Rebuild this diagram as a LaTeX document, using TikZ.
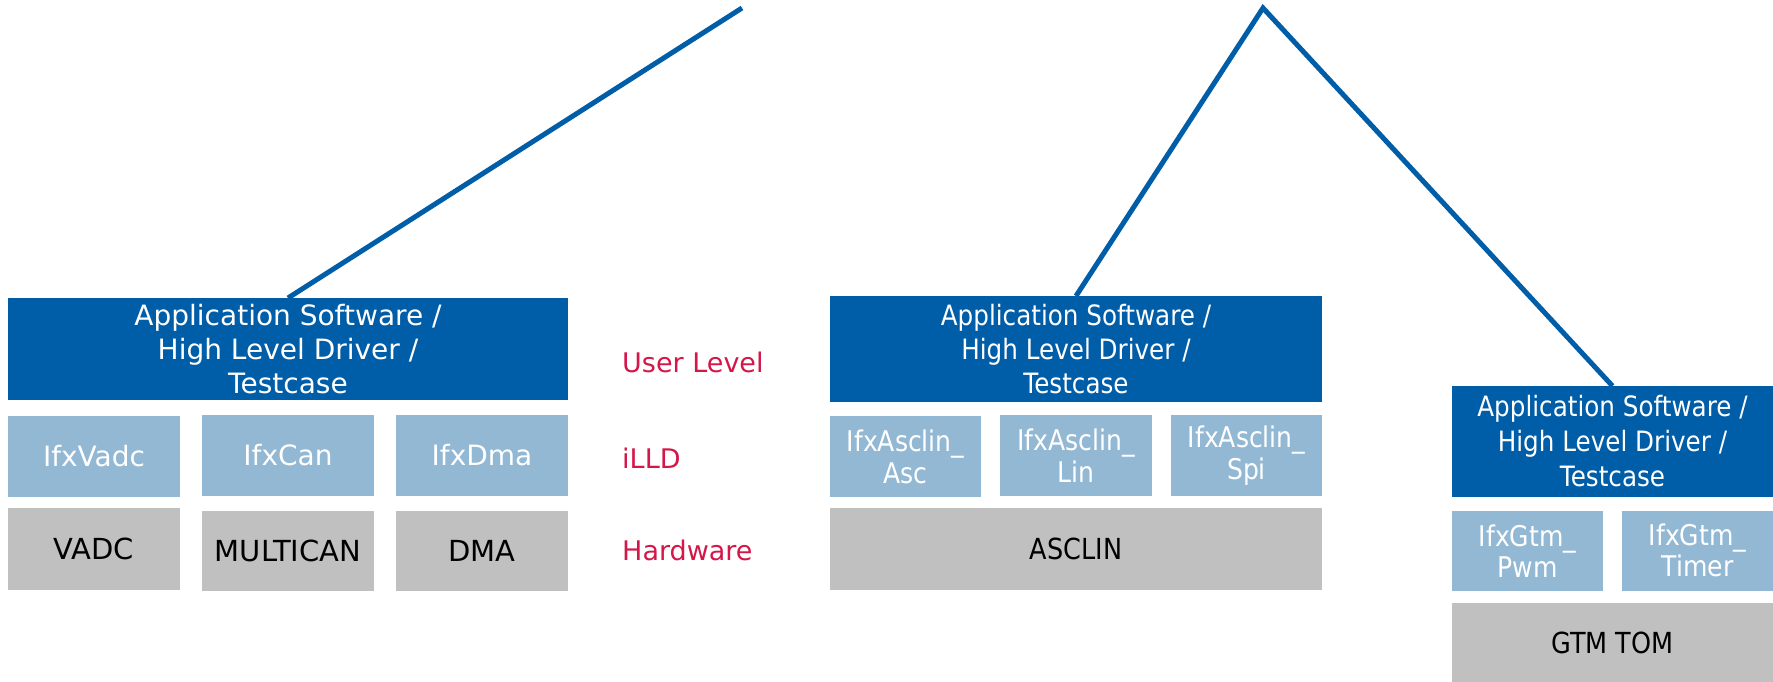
\documentclass[tikz,border=0pt]{standalone}
\usepackage{fontspec}
\setmainfont{DejaVu Sans}
\newfontfamily\condfont{DejaVu Sans}[FakeStretch=0.88]
\definecolor{ifxblue}{RGB}{0,93,168}
\definecolor{ifxlight}{RGB}{146,184,212}
\definecolor{ifxgray}{RGB}{192,192,192}
\definecolor{ifxred}{RGB}{212,22,72}
\begin{document}
\begin{tikzpicture}[x=1pt,y=-1pt,
  base/.style={inner sep=0pt, outer sep=0pt, align=center},
  appbox/.style={base, fill=ifxblue, text=white},
  illdbox/.style={base, fill=ifxlight, text=white},
  hwbox/.style={base, fill=ifxgray, text=black},
  lefttext/.style={font=\fontsize{28}{34}\selectfont},
  lefthw/.style={font=\fontsize{29}{34}\selectfont},
  condtext/.style={font=\condfont\fontsize{28}{34}\selectfont},
  condhw/.style={font=\condfont\fontsize{29}{34}\selectfont},
  condtwo/.style={font=\condfont\fontsize{28.5}{32}\selectfont},
  layerlabel/.style={anchor=base west, inner sep=0pt, text=ifxred, font=\fontsize{27}{32}\selectfont},
  link/.style={draw=ifxblue, line width=5pt, line join=miter}
]
\useasboundingbox (0,0) rectangle (1773,682);

% ---------- left group ----------
\node[appbox, lefttext, minimum width=560pt, minimum height=102pt] (appL) at (288,349)
  {Application Software /\\High Level Driver /\\Testcase};
\node[illdbox, lefttext, minimum width=172pt, minimum height=81pt] (vadcI) at (94,456.5) {IfxVadc};
\node[illdbox, lefttext, minimum width=172pt, minimum height=81pt] (canI) at (288,455.5) {IfxCan};
\node[illdbox, lefttext, minimum width=172pt, minimum height=81pt] (dmaI) at (482,455.5) {IfxDma};
\node[hwbox, lefthw, minimum width=172pt, minimum height=82pt] (vadc) at (94,549) {VADC};
\node[hwbox, lefthw, minimum width=172pt, minimum height=80pt] (multican) at (288,551) {MULTICAN};
\node[hwbox, lefthw, minimum width=172pt, minimum height=80pt] (dma) at (482,551) {DMA};

\node[layerlabel] (lblUser) at (622,372) {User Level};
\node[layerlabel] (lblIlld) at (622,468) {iLLD};
\node[layerlabel] (lblHw) at (622,560) {Hardware};

% ---------- middle group ----------
\node[appbox, condtext, minimum width=492pt, minimum height=106pt] (appM) at (1076,349)
  {Application Software /\\High Level Driver /\\Testcase};
\node[illdbox, condtwo, minimum width=151pt, minimum height=81pt] (ascI) at (905.5,456.5) {IfxAsclin\_\\Asc};
\node[illdbox, condtwo, minimum width=152pt, minimum height=81pt] (linI) at (1076,455.5) {IfxAsclin\_\\Lin};
\node[illdbox, condtwo, minimum width=151pt, minimum height=81pt] (spiI) at (1246.5,455.5) {IfxAsclin\_\\Spi};
\node[hwbox, condhw, minimum width=492pt, minimum height=82pt] (asclin) at (1076,549) {ASCLIN};

% ---------- right group ----------
\node[appbox, font=\condfont\fontsize{28}{35}\selectfont, minimum width=321pt, minimum height=111pt] (appR) at (1612.5,441.5)
  {Application Software /\\High Level Driver /\\Testcase};
\node[illdbox, font=\condfont\fontsize{28.5}{31}\selectfont, minimum width=151pt, minimum height=80pt] (pwmI) at (1527.5,551) {IfxGtm\_\\Pwm};
\node[illdbox, font=\condfont\fontsize{28.5}{31}\selectfont, minimum width=151pt, minimum height=80pt] (timerI) at (1697.5,550.5) {IfxGtm\_\\Timer};
\node[hwbox, condhw, minimum width=321pt, minimum height=79pt] (gtm) at (1612.5,642.5) {GTM TOM};

% ---------- connectors ----------
\coordinate (topL) at (742,8);
\coordinate (apex) at (1263,8);
\draw[link] (appL.north) -- (topL);
\draw[link] (appM.north) -- (apex) -- (appR.north);
\end{tikzpicture}
\end{document}
